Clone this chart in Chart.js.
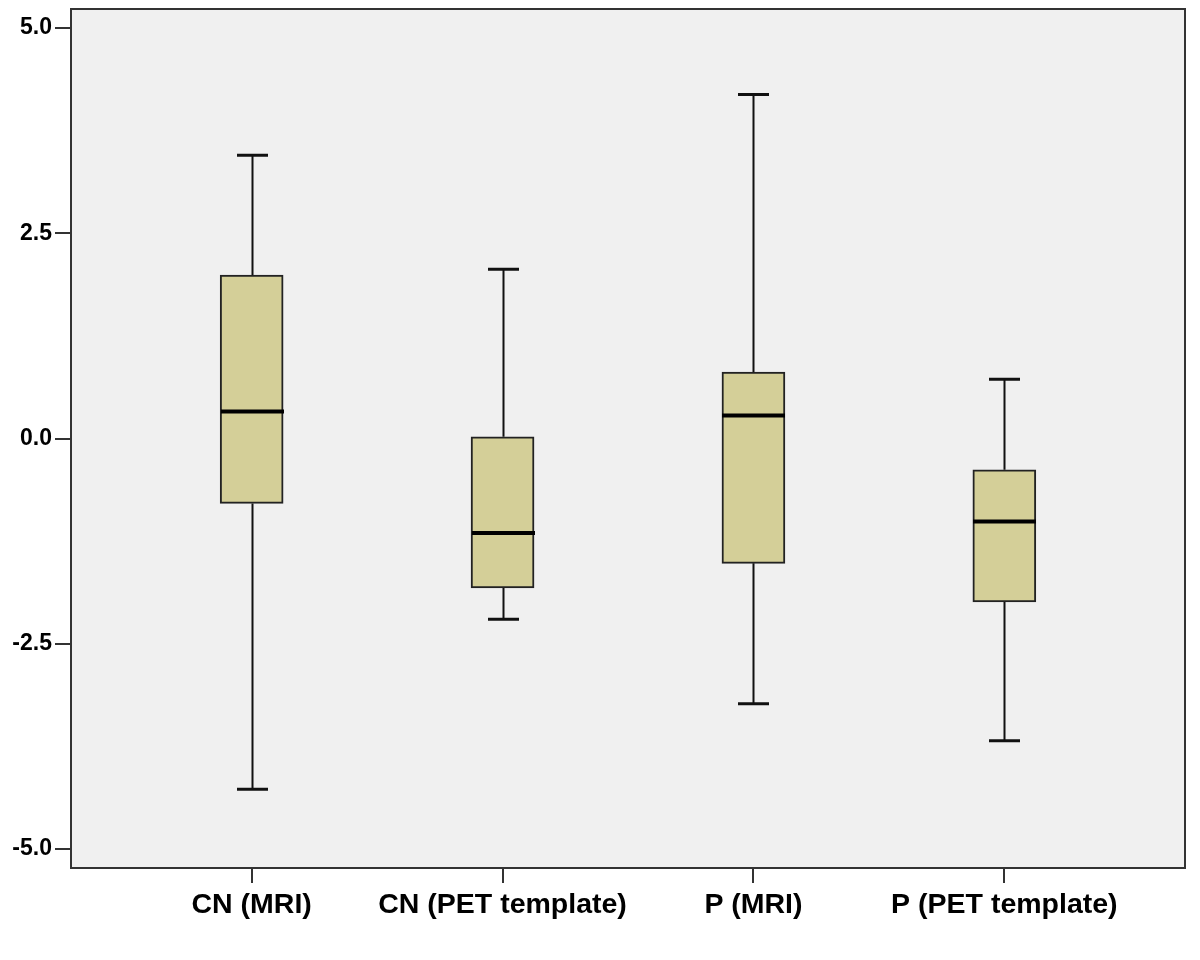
<!DOCTYPE html>
<html>
<head>
<meta charset="utf-8">
<script src="https://cdn.jsdelivr.net/npm/chart.js@4.4.1/dist/chart.umd.min.js"></script>
<style>
html, body { margin: 0; padding: 0; background: #fff; }
#wrap { width: 1200px; height: 960px; }
</style>
</head>
<body>
<div id="wrap"><canvas id="grafico"></canvas></div>
<script>
const categorias = ['CN (MRI)', 'CN (PET template)', 'P (MRI)', 'P (PET template)'];
const maximos = [3.45, 2.06, 4.19, 0.72];
const cuartil3 = [1.99, 0.02, 0.81, -0.38];
const medianas = [0.33, -1.15, 0.28, -1.01];
const cuartil1 = [-0.79, -1.82, -1.52, -1.99];
const minimos = [-4.27, -2.20, -3.23, -3.68];
const ticksY = [-5.0, -2.5, 0.0, 2.5, 5.0];

const anchoCaja = 63;
const anchoTope = 31;

// fondo gris, bigotes, medianas y marco
const bigotes = {
  id: 'bigotes',
  beforeDraw(chart) {
    const { ctx, chartArea: a } = chart;
    ctx.save();
    ctx.fillStyle = '#f0f0f0';
    ctx.fillRect(a.left, a.top, a.right - a.left, a.bottom - a.top);
    ctx.restore();
  },
  afterDatasetsDraw(chart) {
    const { ctx, scales: { x, y } } = chart;
    ctx.save();
    ctx.strokeStyle = '#111';
    ctx.lineCap = 'butt';
    categorias.forEach((c, i) => {
      const cx = Math.round(x.getPixelForValue(i)) + 0.5;
      const yMax = y.getPixelForValue(maximos[i]);
      const yQ3 = y.getPixelForValue(cuartil3[i]);
      const yQ1 = y.getPixelForValue(cuartil1[i]);
      const yMin = y.getPixelForValue(minimos[i]);
      const yMed = y.getPixelForValue(medianas[i]);

      ctx.lineWidth = 2;
      ctx.beginPath();
      ctx.moveTo(cx, yMax); ctx.lineTo(cx, yQ3);
      ctx.moveTo(cx, yQ1); ctx.lineTo(cx, yMin);
      ctx.stroke();

      ctx.lineWidth = 3;
      ctx.beginPath();
      ctx.moveTo(cx - anchoTope / 2, yMax); ctx.lineTo(cx + anchoTope / 2, yMax);
      ctx.moveTo(cx - anchoTope / 2, yMin); ctx.lineTo(cx + anchoTope / 2, yMin);
      ctx.stroke();

      ctx.lineWidth = 4;
      ctx.strokeStyle = '#000';
      ctx.beginPath();
      ctx.moveTo(cx - anchoCaja / 2, yMed); ctx.lineTo(cx + anchoCaja / 2, yMed);
      ctx.stroke();
      ctx.strokeStyle = '#111';
    });
    ctx.restore();
  },
  afterDraw(chart) {
    const { ctx, chartArea: a } = chart;
    ctx.save();
    ctx.strokeStyle = '#333';
    ctx.lineWidth = 2;
    ctx.strokeRect(a.left, a.top, a.right - a.left, a.bottom - a.top);
    ctx.restore();
  }
};

const contexto = document.getElementById('grafico').getContext('2d');

const grafico = new Chart(contexto, {
  type: 'bar',
  data: {
    datasets: [{
      data: categorias.map((c, i) => ({ x: i, y: [cuartil1[i], cuartil3[i]] })),
      backgroundColor: '#d4cf98',
      borderColor: '#222',
      borderWidth: 2,
      borderSkipped: false,
      barThickness: anchoCaja
    }]
  },
  options: {
    responsive: true,
    maintainAspectRatio: false,
    animation: false,
    layout: { padding: { top: 9, right: 15, left: 0, bottom: 0 } },
    plugins: {
      legend: { display: false },
      tooltip: { enabled: false }
    },
    scales: {
      x: {
        type: 'linear',
        min: -0.72,
        max: 3.72,
        offset: false,
        afterBuildTicks: s => { s.ticks = categorias.map((c, i) => ({ value: i })); },
        afterFit: s => { s.height = 92; s.paddingLeft = 0; s.paddingRight = 0; },
        ticks: {
          callback: v => categorias[v],
          color: '#000',
          font: { family: '"Liberation Sans", Arial', size: 28.5, weight: 'bold' },
          padding: 5,
          maxRotation: 0,
          autoSkip: false
        },
        grid: { offset: false, drawOnChartArea: false, drawTicks: true, tickLength: 15, color: '#333', lineWidth: 2 },
        border: { display: false }
      },
      y: {
        min: -5.23,
        max: 5.23,
        afterBuildTicks: s => { s.ticks = ticksY.map(v => ({ value: v })); },
        afterFit: s => { s.width = 71; s.paddingTop = 0; s.paddingBottom = 0; },
        ticks: {
          callback: v => v.toFixed(1),
          color: '#000',
          font: { family: '"Liberation Sans", Arial', size: 23, weight: 'bold' },
          padding: 3
        },
        grid: { drawOnChartArea: false, drawTicks: true, tickLength: 16, color: '#333', lineWidth: 2 },
        border: { display: false }
      }
    }
  },
  plugins: [bigotes]
});
</script>
</body>
</html>
